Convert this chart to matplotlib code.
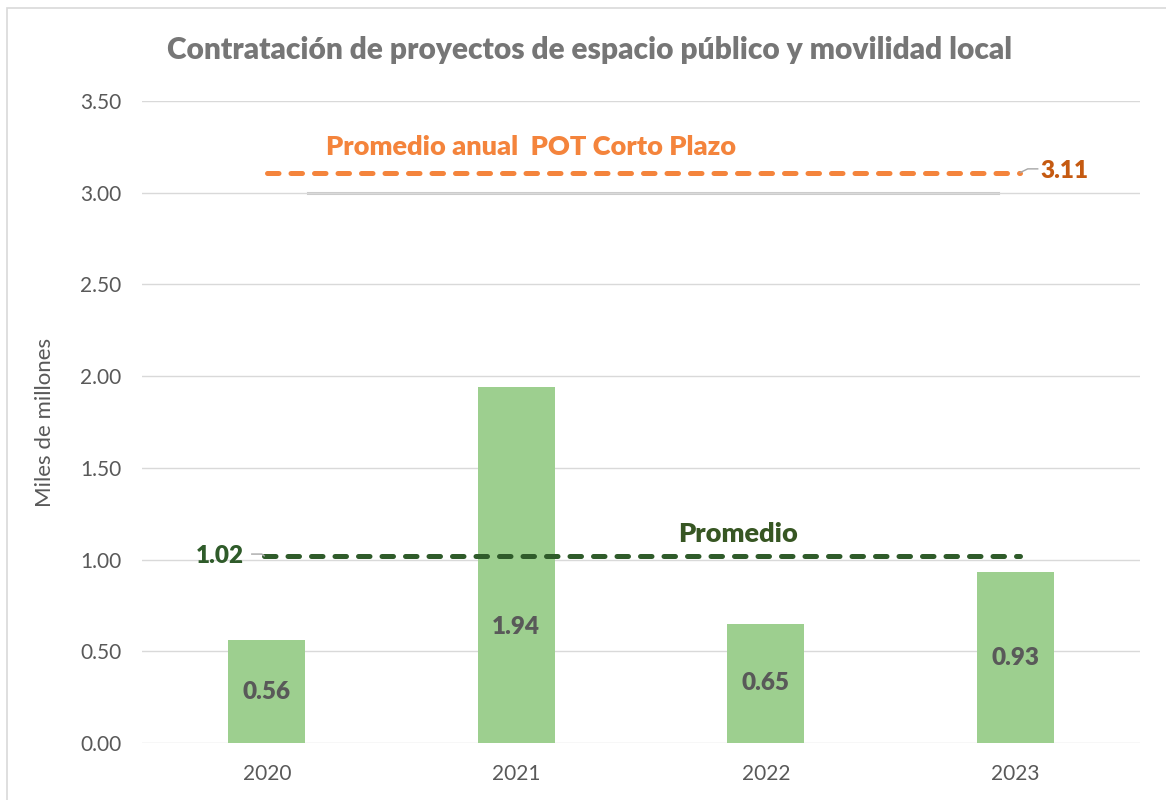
import matplotlib
matplotlib.use("Agg")
from matplotlib import pyplot as plt
import numpy as np

# data
years = ["2020", "2021", "2022", "2023"]
values = [0.56, 1.94, 0.65, 0.93]
promedio = 1.02
pot_promedio = 3.11
yticks = [0.0, 0.5, 1.0, 1.5, 2.0, 2.5, 3.0, 3.5]

plt.rcParams['font.family'] = ['Lato', 'DejaVu Sans']

fig = plt.figure(figsize=(11.66, 8), dpi=100)
ax = fig.add_axes([0.1218, 0.07125, 0.8559, 0.8025])

# outer chart border
fig.patches.append(plt.Rectangle((0.006, -0.01), 1.0, 1.0, transform=fig.transFigure,
                                 fill=False, edgecolor='#d9d9d9', linewidth=1.2))

x = np.arange(len(years))
bars = ax.bar(x, values, width=0.31, color='#9dcf8f', zorder=2)

# bar labels (2021 lowered to stay clear of the average line)
label_y = [v / 2 for v in values]
label_y[1] = 0.63
for xi, v, ly in zip(x, values, label_y):
    ax.text(xi, ly, f"{v:.2f}", ha='center', va='center', fontsize=17.5,
            fontweight='heavy', color='#595959', zorder=4)

# leftover grey line at 3.00
ax.plot([0.165, 2.93], [3.0, 3.0], color='#c9c9c9', lw=2.2, zorder=1.5)

# average lines
ax.plot([0.0, 3.02], [pot_promedio, pot_promedio], color='#f4843c', lw=3.6,
        dashes=(2.3, 2.4), dash_capstyle='round', zorder=3)
ax.plot([-0.01, 3.02], [promedio, promedio], color='#2f5b2a', lw=3.6,
        dashes=(2.3, 2.4), dash_capstyle='round', zorder=3)

# labels for the lines
ax.text(1.06, 3.25, "Promedio anual  POT Corto Plazo", ha='center', va='center',
        fontsize=19.5, fontweight='heavy', color='#f4843c')
ax.plot([3.02, 3.05, 3.09], [3.11, 3.13, 3.13], color='#a6a6a6', lw=1, zorder=3)
ax.text(3.10, 3.12, f"{pot_promedio:.2f}", ha='left', va='center',
        fontsize=17.5, fontweight='heavy', color='#c55a11')
ax.text(1.89, 1.14, "Promedio", ha='center', va='center',
        fontsize=19.5, fontweight='heavy', color='#375623')
ax.plot([-0.06, -0.02, -0.01], [1.03, 1.03, 1.02], color='#a6a6a6', lw=1, zorder=3)
ax.text(-0.09, 1.02, f"{promedio:.2f}", ha='right', va='center',
        fontsize=17.5, fontweight='heavy', color='#2f5b2a')

ax.set_xlim(-0.5, 3.5)
ax.set_ylim(0, 3.5)
ax.set_yticks(yticks)
ax.set_yticklabels([f"{t:.2f}" for t in yticks])
ax.set_xticks(x)
ax.set_xticklabels(years)
ax.tick_params(axis='both', length=0, labelsize=15, colors='#595959')
ax.tick_params(axis='y', pad=15)
ax.tick_params(axis='x', pad=15)
ax.grid(axis='y', color='#d9d9d9', lw=1, zorder=0)
for s in ax.spines.values():
    s.set_visible(False)

ax.set_ylabel("Miles de millones", fontsize=16, color='#595959', labelpad=18)
fig.text(0.506, 0.938, "Contratación de proyectos de espacio público y movilidad local",
         ha='center', va='center', fontsize=21.5, fontweight='heavy', color='#767676')

plt.savefig("out.png", dpi=100)
